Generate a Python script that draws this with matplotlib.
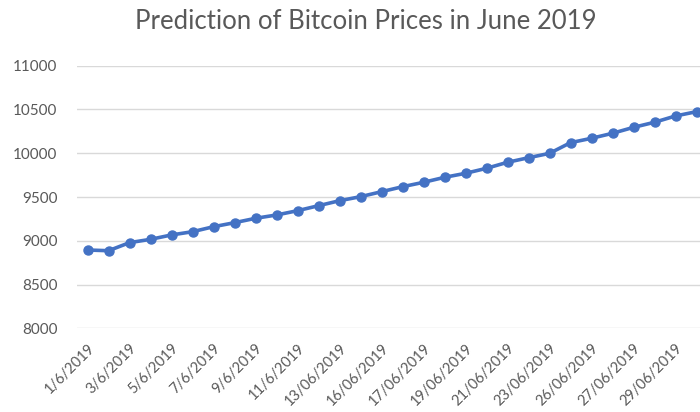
# Prediction of Bitcoin prices, June 2019 (Excel-style line chart)

import numpy as np
import matplotlib.pyplot as plt

# Data (30 daily predictions)
prices = [8895, 8887, 8979, 9017, 9067, 9104, 9161, 9207, 9257, 9295,
          9344, 9401, 9458, 9504, 9561, 9618, 9668, 9725, 9771, 9828,
          9897, 9949, 9999, 10121, 10171, 10228, 10296, 10354, 10426, 10475]

# Only every other category label is displayed
shown_labels = ['1/6/2019', '3/6/2019', '5/6/2019', '7/6/2019', '9/6/2019',
                '11/6/2019', '13/06/2019', '16/06/2019', '17/06/2019',
                '19/06/2019', '21/06/2019', '23/06/2019', '26/06/2019',
                '27/06/2019', '29/06/2019']

yticks = [8000, 8500, 9000, 9500, 10000, 10500, 11000]

plt.rcParams['font.family'] = ['Lato', 'DejaVu Sans']
grey = '#595959'

fig = plt.figure(figsize=(7, 4.12), dpi=100)
ax = fig.add_axes([0.11, 0.203, 0.90, 0.6375])

x = np.arange(len(prices))
ax.plot(x, prices, color='#4472C4', linewidth=2.6, marker='o',
        markersize=6.5, clip_on=False, zorder=3)

ax.set_xlim(-0.5, len(prices) - 0.5)
ax.set_ylim(8000, 11000)
ax.set_yticks(yticks)
ax.set_yticklabels([str(v) for v in yticks])
ax.set_xticks(x[::2])
ax.set_xticklabels(shown_labels, rotation=45, ha='right', rotation_mode='anchor')

ax.grid(axis='y', color='#D9D9D9', linewidth=1)
ax.set_axisbelow(True)
for s in ax.spines.values():
    s.set_visible(False)
ax.tick_params(axis='both', length=0, colors=grey, labelsize=11)
ax.tick_params(axis='x', labelsize=10.5, pad=9)
ax.tick_params(axis='y', pad=14)

fig.text(0.522, 0.947, 'Prediction of Bitcoin Prices in June 2019',
         ha='center', va='center', fontsize=18.5, color=grey)

fig.savefig('out.png', dpi=100)
